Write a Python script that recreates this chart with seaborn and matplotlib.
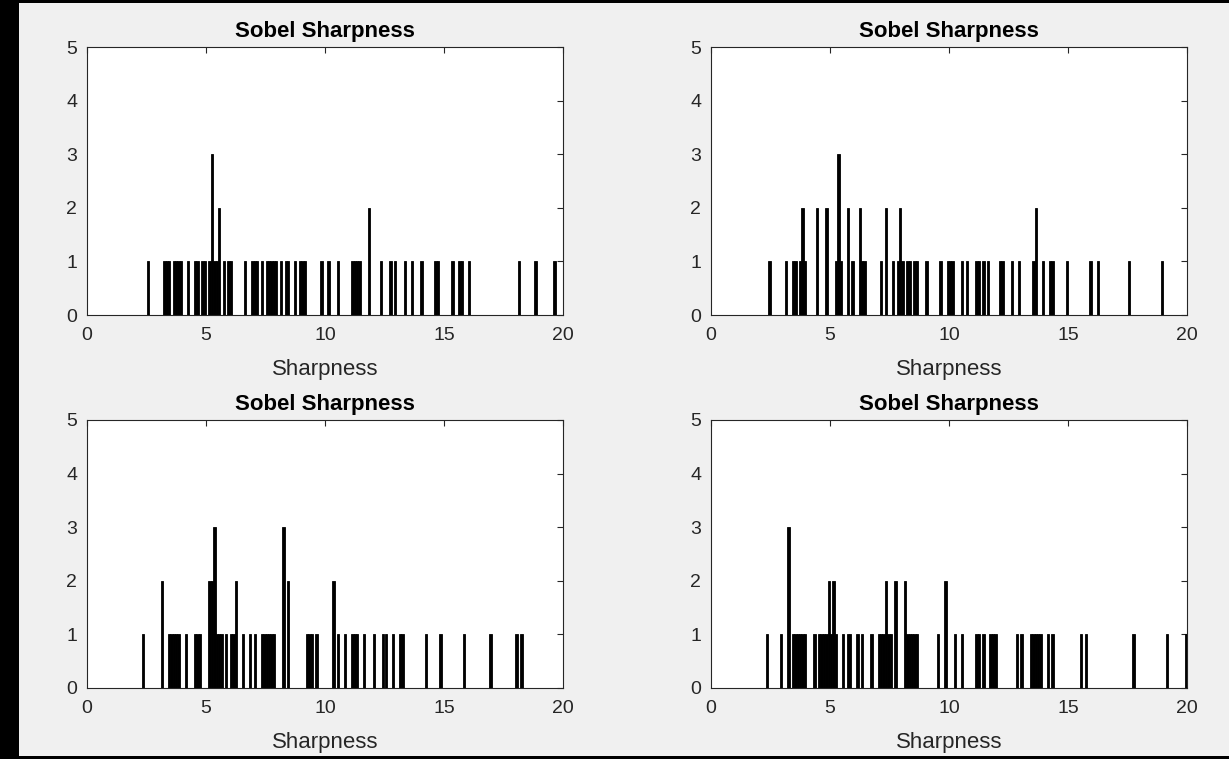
import numpy as np
import pandas as pd
import matplotlib
matplotlib.use("Agg")
import matplotlib.pyplot as plt
import seaborn as sns
from matplotlib.patches import Rectangle

# ---- data (sharpness values, one entry per image) ----
sharp_tl = [2.55, 3.25, 3.35, 3.45, 3.65, 3.75, 3.85, 3.95, 4.25, 4.55, 4.65, 4.85, 4.95,
            5.15, 5.25, 5.25, 5.25, 5.35, 5.45, 5.55, 5.55, 5.75, 5.95, 6.05, 6.65, 6.95,
            7.05, 7.15, 7.35, 7.55, 7.65, 7.75, 7.85, 7.95, 8.15, 8.35, 8.45, 8.75, 8.95,
            9.05, 9.15, 9.85, 10.15, 10.55, 11.15, 11.25, 11.35, 11.45, 11.85, 11.85,
            12.35, 12.75, 12.95, 13.35, 13.65, 14.05, 14.65, 14.75, 15.35, 15.65, 15.75,
            16.05, 18.15, 18.85, 19.65]
sharp_tr = [2.45, 3.15, 3.45, 3.55, 3.75, 3.85, 3.85, 3.95, 4.45, 4.45, 4.85, 4.85,
            5.25, 5.35, 5.35, 5.35, 5.45, 5.75, 5.75, 5.95, 6.25, 6.25, 6.35, 6.45,
            7.15, 7.35, 7.35, 7.65, 7.85, 7.95, 7.95, 8.05, 8.25, 8.35, 8.55, 8.65,
            9.05, 9.65, 9.95, 10.05, 10.15, 10.55, 10.75, 11.15, 11.25, 11.45, 11.65,
            12.15, 12.25, 12.65, 12.95, 13.55, 13.65, 13.65, 13.95, 14.25, 14.35,
            14.95, 15.95, 16.25, 17.55, 18.95]
sharp_bl = [2.35, 3.15, 3.15, 3.45, 3.55, 3.65, 3.75, 3.85, 4.15, 4.55, 4.65, 4.75,
            5.15, 5.15, 5.25, 5.25, 5.35, 5.35, 5.35, 5.45, 5.55, 5.65, 5.85, 6.05,
            6.15, 6.25, 6.25, 6.55, 6.85, 7.05, 7.35, 7.45, 7.55, 7.65, 7.75, 7.85,
            8.25, 8.25, 8.25, 8.45, 8.45, 9.25, 9.35, 9.45, 9.65, 10.35, 10.35, 10.55,
            10.85, 11.15, 11.25, 11.35, 11.65, 12.05, 12.45, 12.55, 12.85, 13.15,
            13.25, 14.25, 14.85, 15.85, 16.95, 18.05, 18.25]
sharp_br = [2.35, 2.95, 3.25, 3.25, 3.25, 3.45, 3.55, 3.65, 3.75, 3.85, 3.95, 4.35,
            4.55, 4.65, 4.75, 4.85, 4.95, 4.95, 5.05, 5.15, 5.15, 5.25, 5.55, 5.75,
            5.85, 6.15, 6.35, 6.75, 7.05, 7.15, 7.25, 7.35, 7.35, 7.45, 7.55, 7.75,
            7.75, 8.15, 8.15, 8.25, 8.35, 8.45, 8.55, 8.65, 9.55, 9.85, 9.85, 10.25,
            10.55, 11.15, 11.25, 11.45, 11.75, 11.85, 11.95, 12.85, 13.05, 13.45,
            13.55, 13.65, 13.75, 13.85, 14.15, 14.35, 15.55, 15.75, 17.75, 19.15, 19.95]

panel_data = [sharp_tl, sharp_tr, sharp_bl, sharp_br]
title_text = "Sobel Sharpness"
xlabel_text = "Sharpness"
x_ticks = [0, 5, 10, 15, 20]
y_ticks = [0, 1, 2, 3, 4, 5]

sns.set_style("white")
plt.rcParams['font.family'] = ['Liberation Sans', 'DejaVu Sans']

W, H = 1229, 759
fig = plt.figure(figsize=(W / 100, H / 100), dpi=100, facecolor="black")
# light grey canvas inside the black border
fig.patches.append(Rectangle((19 / W, 3 / H), 1 - 19 / W, 1 - 6 / H,
                             transform=fig.transFigure, facecolor="#f0f0f0",
                             edgecolor="none", zorder=-10))

txt = "#262626"
ax_w = (563 - 87) / W
ax_h = (315 - 47) / H
lefts = [87 / W, 711 / W]
bottoms = [1 - 315 / H, 1 - 688 / H]
positions = [(lefts[0], bottoms[0]), (lefts[1], bottoms[0]),
             (lefts[0], bottoms[1]), (lefts[1], bottoms[1])]

for vals, (l, b) in zip(panel_data, positions):
    ax = fig.add_axes([l, b, ax_w, ax_h])
    ax.set_facecolor("white")
    df = pd.DataFrame({"Sharpness": vals})
    sns.histplot(data=df, x="Sharpness", binwidth=0.1, binrange=(0, 20),
                 color="black", edgecolor="black", linewidth=0.6, alpha=1,
                 ax=ax)
    ax.set_xlim(0, 20)
    ax.set_ylim(0, 5)
    ax.set_xticks(x_ticks)
    ax.set_yticks(y_ticks)
    ax.set_title(title_text, fontsize=16, fontweight="bold", color="black", pad=7)
    ax.set_xlabel(xlabel_text, fontsize=16, color=txt, labelpad=11)
    ax.set_ylabel("")
    ax.tick_params(axis="both", direction="in", length=4, width=0.8, colors=txt,
                   labelsize=14, top=True, right=True)
    ax.tick_params(axis="x", pad=8.5)
    ax.tick_params(axis="y", pad=7)
    for s in ax.spines.values():
        s.set_visible(True)
        s.set_color(txt)
        s.set_linewidth(0.8)

fig.savefig("out.png", dpi=100, facecolor="black")
